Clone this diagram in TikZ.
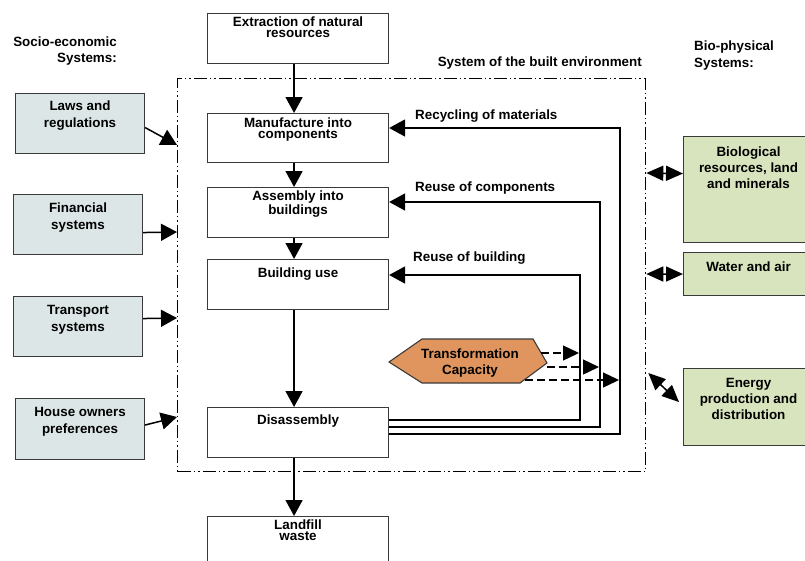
\documentclass[tikz,border=0pt]{standalone}
\usepackage{fontspec}
\setmainfont{Liberation Sans}
\usetikzlibrary{arrows.meta,calc}

\definecolor{socioFill}{HTML}{DCE6E6}
\definecolor{bioFill}{HTML}{D7E4BD}
\definecolor{capFill}{HTML}{E0955E}
\definecolor{edgeGray}{HTML}{3A3A3A}

\newcommand\dgFlowFont{\bfseries\fontsize{13.4}{11}\selectfont}
\newcommand\dgSocioFont{\bfseries\fontsize{13.4}{17}\selectfont}
\newcommand\dgBioFont{\bfseries\fontsize{13.4}{16}\selectfont}

\tikzset{
  basebox/.style={draw=edgeGray, line width=1.1pt, anchor=north west, inner sep=0pt},
  flowbox/.style={basebox, fill=white, minimum width=181pt, minimum height=50pt},
  sociobox/.style={basebox, fill=socioFill, minimum width=129pt, minimum height=60pt},
  biobox/.style={basebox, fill=bioFill, minimum width=130pt},
  intext/.style={anchor=north, align=center, inner sep=0pt, font=\dgFlowFont},
  sociotext/.style={intext, font=\dgSocioFont},
  biotext/.style={intext, font=\dgBioFont},
  plainlabel/.style={inner sep=0pt, font=\dgFlowFont},
  flow/.style={line width=1.5pt, -{Triangle[length=16pt,width=17pt]}},
  twoway/.style={line width=1.5pt, {Triangle[length=17pt,width=15pt]}-{Triangle[length=17pt,width=15pt]}},
  tcarrow/.style={line width=1.3pt, dash pattern=on 8pt off 4pt, -{Triangle[length=16pt,width=15pt]}},
  sysframe/.style={draw=black, line width=1.3pt,
    dash pattern=on 13pt off 3pt on 1.5pt off 3pt on 1.5pt off 3pt,
    anchor=north west, inner sep=0pt, minimum width=468pt, minimum height=393pt}
}

\begin{document}
\begin{tikzpicture}[x=1pt,y=-1pt]
\useasboundingbox (0,0) rectangle (805,560);
\clip (0,0) rectangle (805,560);

% system boundary
\node[sysframe] (sys) at (177,78) {};

% headings
\node[plainlabel, font=\dgBioFont, anchor=north east, align=right] (socioHead) at (117,37) {Socio-economic\\Systems:};
\node[plainlabel, font=\dgSocioFont, anchor=north west, align=left] (bioHead) at (694,41) {Bio-physical\\Systems:};
\node[plainlabel, anchor=base east] (sysHead) at (642,66) {System of the built environment};

% life-cycle chain
\node[flowbox, label={[intext,yshift=-4pt]north:{Extraction of natural\\resources}}] (ext) at (207,13) {};
\node[flowbox, minimum height=49pt, label={[intext,yshift=-5pt]north:{Manufacture into\\components}}] (man) at (207,113) {};
\node[flowbox, label={[intext,yshift=-4pt]north:{Assembly into\\buildings}}] (asm) at (207,187) {};
\node[flowbox, label={[intext,yshift=-9pt]north:{Building use}}] (bu) at (207,259) {};
\node[flowbox, label={[intext,yshift=-8pt]north:{Disassembly}}] (dis) at (207,407) {};
\node[flowbox, label={[intext,yshift=-4pt]north:{Landfill\\waste}}] (land) at (207,516) {};

\draw[flow] ([xshift=-4pt]ext.south) -- ([xshift=-4pt]man.north);
\draw[flow] ([xshift=-4pt]man.south) -- ([xshift=-4pt]asm.north);
\draw[flow] ([xshift=-4pt]asm.south) -- ([xshift=-4pt]bu.north);
\draw[flow] ([xshift=-4pt]bu.south) -- ([xshift=-4pt]dis.north);
\draw[flow] ([xshift=-4pt]dis.south) -- ([xshift=-4pt]land.north);

% feedback loops
\draw[flow] ($(dis.north east)+(0,13)$) -| ($(bu.north east)+(191,16)$) -- ($(bu.north east)+(0,16)$);
\draw[flow] ($(dis.north east)+(0,20)$) -| ($(asm.north east)+(211,15)$) -- ($(asm.north east)+(0,15)$);
\draw[flow] ($(dis.north east)+(0,27)$) -| ($(man.north east)+(231,15)$) -- ($(man.north east)+(0,15)$);

\node[plainlabel, anchor=base west] (recyc) at (415,119) {Recycling of materials};
\node[plainlabel, anchor=base west] (reuseC) at (415,191) {Reuse of components};
\node[plainlabel, anchor=base west] (reuseB) at (413,261) {Reuse of building};

% transformation capacity
\draw[draw=edgeGray, line width=1.1pt, fill=capFill]
  (389,362) -- (422,339) -- (533,339) -- (547,363) -- (520,383) -- (422,383) -- cycle;
\node[plainlabel, font=\dgBioFont, align=center] (tc) at (470,363) {Transformation\\Capacity};
\coordinate (tcA) at (541,353);
\coordinate (tcB) at (547,367);
\coordinate (tcC) at (525,380);
\coordinate (loopA) at (579,353);
\coordinate (loopB) at (599,367);
\coordinate (loopC) at (619,380);
\draw[tcarrow] (tcA) -- (loopA);
\draw[tcarrow] (tcB) -- (loopB);
\draw[tcarrow] (tcC) -- (loopC);

% socio-economic systems
\node[sociobox, label={[sociotext,yshift=-8pt]north:{Laws and\\regulations}}] (laws) at (15,93) {};
\node[sociobox, label={[sociotext,yshift=-9pt]north:{Financial\\systems}}] (fin) at (13,194) {};
\node[sociobox, label={[sociotext,yshift=-9pt]north:{Transport\\systems}}] (trans) at (13,296) {};
\node[sociobox, minimum height=61pt, label={[sociotext,yshift=-9pt]north:{House owners\\preferences}}] (house) at (15,398) {};

\draw[flow] ($(laws.east)+(0,4)$) -- ($(sys.north west)+(0,67)$);
\draw[flow] ($(fin.east)+(0,8)$) -- ($(sys.north west)+(0,154)$);
\draw[flow] ($(trans.east)+(0,-8)$) -- ($(sys.north west)+(0,240)$);
\draw[flow] ($(house.east)+(0,-4)$) -- ($(sys.north west)+(0,339)$);

% bio-physical systems
\node[biobox, minimum height=106pt, label={[biotext,yshift=-11pt]north:{Biological\\resources, land\\and minerals}}] (bio) at (683,136) {};
\node[biobox, minimum height=43pt, label={[biotext,yshift=-10pt]north:{Water and air}}] (water) at (683,252) {};
\node[biobox, minimum height=77pt, label={[biotext,yshift=-10pt]north:{Energy\\production and\\distribution}}] (energy) at (683,368) {};

\draw[twoway] ($(sys.north east)+(0,95)$) -- ($(bio.west)+(0,-16)$);
\draw[twoway] ($(sys.north east)+(0,196)$) -- ($(water.west)+(0,0)$);
\draw[twoway] ($(sys.north east)+(2,295)$) -- ($(energy.west)+(-4,-5)$);
\end{tikzpicture}
\end{document}
